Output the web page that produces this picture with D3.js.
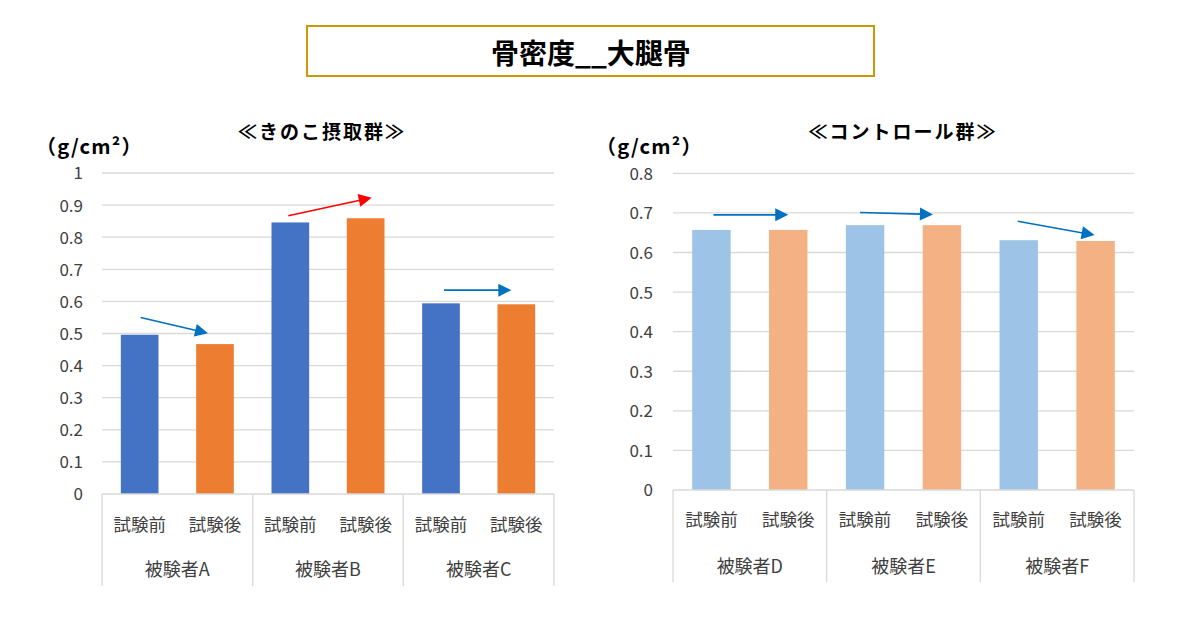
<!DOCTYPE html>
<html>
<head>
<meta charset="utf-8">
<script src="https://cdn.jsdelivr.net/npm/d3@7"></script>
<style>
  html, body { margin: 0; padding: 0; background: #fff; }
  svg { display: block; font-family: "Noto Sans CJK JP", "Noto Sans", sans-serif; }
</style>
</head>
<body>
<svg id="chart" width="1182" height="633"></svg>
<script>
// ---- data ----
const mainTitle = "骨密度__大腿骨";
const unitLabel = "（g/cm²）";
const phases = ["試験前", "試験後"];

const leftTitle = "≪きのこ摂取群≫";
const leftSubjects = ["被験者A", "被験者B", "被験者C"];
const leftBefore = [0.496, 0.846, 0.594];
const leftAfter  = [0.467, 0.859, 0.591];
const leftTicks  = [0, 0.1, 0.2, 0.3, 0.4, 0.5, 0.6, 0.7, 0.8, 0.9, 1];
const leftTickLabels = ["0", "0.1", "0.2", "0.3", "0.4", "0.5", "0.6", "0.7", "0.8", "0.9", "1"];
// arrow annotations: value at start (before) and tip (after)
const leftArrowFrom = [0.550, 0.867, 0.635];
const leftArrowTo   = [0.501, 0.923, 0.635];
const leftArrowColors = ["#0070C0", "#FF0000", "#0070C0"];

const rightTitle = "≪コントロール群≫";
const rightSubjects = ["被験者D", "被験者E", "被験者F"];
const rightBefore = [0.657, 0.669, 0.631];
const rightAfter  = [0.657, 0.669, 0.629];
const rightTicks  = [0, 0.1, 0.2, 0.3, 0.4, 0.5, 0.6, 0.7, 0.8];
const rightTickLabels = ["0", "0.1", "0.2", "0.3", "0.4", "0.5", "0.6", "0.7", "0.8"];
const rightArrowFrom = [0.695, 0.701, 0.679];
const rightArrowTo   = [0.695, 0.696, 0.644];
const rightArrowColors = ["#0070C0", "#0070C0", "#0070C0"];

// ---- drawing ----
const svg = d3.select("#chart");
svg.append("rect").attr("width", 1182).attr("height", 633).attr("fill", "#fff");

// main title box
svg.append("rect")
  .attr("x", 307).attr("y", 26).attr("width", 567).attr("height", 50)
  .attr("fill", "#fff").attr("stroke", "#C99A06").attr("stroke-width", 2);
svg.append("text")
  .attr("x", 591).attr("y", 52).attr("text-anchor", "middle")
  .attr("dominant-baseline", "central")
  .attr("font-size", 28).attr("font-weight", "bold").attr("fill", "#000")
  .text(mainTitle);

function drawChart(cfg) {
  const g = svg.append("g");
  const y = d3.scaleLinear().domain([0, cfg.yMax]).range([cfg.bottom, cfg.top]);
  const x0 = d3.scaleBand().domain(cfg.subjects).range([cfg.left, cfg.right]).padding(0);
  const x1 = d3.scaleBand().domain(phases).range([0, x0.bandwidth()])
    .paddingInner(0.5).paddingOuter(0.25);

  // gridlines
  g.append("g").selectAll("line").data(cfg.ticks.filter(t => t > 0)).join("line")
    .attr("x1", cfg.left).attr("x2", cfg.right)
    .attr("y1", d => y(d)).attr("y2", d => y(d))
    .attr("stroke", "#D9D9D9").attr("stroke-width", 1.3);

  // y axis labels
  const yAxis = d3.axisLeft(y).tickValues(cfg.ticks)
    .tickFormat((d, i) => cfg.tickLabels[i]).tickSize(0).tickPadding(0);
  const ya = g.append("g").attr("transform", `translate(${cfg.labelX},0)`).call(yAxis);
  ya.select(".domain").remove();
  ya.selectAll("text").attr("font-size", 17).attr("fill", "#404040")
    .attr("font-family", "'Noto Sans CJK JP', sans-serif").attr("dy", "0.35em");

  // unit label
  g.append("text").attr("x", cfg.unitX).attr("y", 145).attr("dominant-baseline", "central")
    .attr("font-size", 20).attr("font-weight", "bold").attr("fill", "#000")
    .attr("letter-spacing", 1.2).text(unitLabel);

  // chart title
  g.append("text").attr("x", cfg.titleX).attr("y", 130).attr("text-anchor", "middle")
    .attr("dominant-baseline", "central").attr("font-size", 19).attr("font-weight", "bold")
    .attr("letter-spacing", 2).attr("fill", "#000").text(cfg.title);

  // bars
  const rows = [];
  cfg.subjects.forEach((s, i) => {
    rows.push({ s, p: phases[0], v: cfg.before[i] });
    rows.push({ s, p: phases[1], v: cfg.after[i] });
  });
  g.append("g").selectAll("rect").data(rows).join("rect")
    .attr("x", d => x0(d.s) + x1(d.p))
    .attr("width", x1.bandwidth())
    .attr("y", d => y(d.v))
    .attr("height", d => y(0) - y(d.v))
    .attr("fill", d => d.p === phases[0] ? cfg.colors[0] : cfg.colors[1]);

  // category axis line + separators
  g.append("line").attr("x1", cfg.left).attr("x2", cfg.right)
    .attr("y1", y(0)).attr("y2", y(0)).attr("stroke", "#D9D9D9").attr("stroke-width", 1.3);
  const seps = cfg.subjects.map(s => x0(s)).concat([cfg.right]);
  g.append("g").selectAll("line").data(seps).join("line")
    .attr("x1", d => d).attr("x2", d => d)
    .attr("y1", y(0)).attr("y2", cfg.sepBottom)
    .attr("stroke", "#D9D9D9").attr("stroke-width", 1.3);

  // phase labels
  g.append("g").selectAll("text").data(rows).join("text")
    .attr("x", d => x0(d.s) + x1(d.p) + x1.bandwidth() / 2)
    .attr("y", cfg.phaseY).attr("text-anchor", "middle").attr("dominant-baseline", "central")
    .attr("font-size", 17.5).attr("fill", "#404040").text(d => d.p);
  // subject labels
  g.append("g").selectAll("text").data(cfg.subjects).join("text")
    .attr("x", d => x0(d) + x0.bandwidth() / 2)
    .attr("y", cfg.subjectY).attr("text-anchor", "middle").attr("dominant-baseline", "central")
    .attr("font-size", 18).attr("fill", "#404040").text(d => d);

  // arrows
  const ag = g.append("g");
  cfg.subjects.forEach((s, i) => {
    const xs = x0(s) + x1(phases[0]) + x1.bandwidth() / 2 + cfg.arrowDx[i][0];
    const xe = x0(s) + x1(phases[1]) + x1.bandwidth() / 2 + cfg.arrowDx[i][1];
    const ys = y(cfg.arrowFrom[i]), ye = y(cfg.arrowTo[i]);
    const ang = Math.atan2(ye - ys, xe - xs);
    const hl = 13, hw = 6.5;
    const bx = xe - hl * Math.cos(ang), by = ye - hl * Math.sin(ang);
    const col = cfg.arrowColors[i];
    ag.append("line").attr("x1", xs).attr("y1", ys).attr("x2", bx + 1 * Math.cos(ang)).attr("y2", by + 1 * Math.sin(ang))
      .attr("stroke", col).attr("stroke-width", 1.6);
    const px = -Math.sin(ang), py = Math.cos(ang);
    ag.append("polygon")
      .attr("points", [[xe, ye], [bx + px * hw, by + py * hw], [bx - px * hw, by - py * hw]]
        .map(p => p.join(",")).join(" "))
      .attr("fill", col);
  });
}

drawChart({
  title: leftTitle, subjects: leftSubjects, before: leftBefore, after: leftAfter,
  ticks: leftTicks, tickLabels: leftTickLabels, yMax: 1,
  left: 102, right: 554, top: 173, bottom: 494, labelX: 83, unitX: 36, titleX: 322,
  phaseY: 523, subjectY: 568, sepBottom: 586,
  colors: ["#4472C4", "#ED7D31"],
  arrowFrom: leftArrowFrom, arrowTo: leftArrowTo, arrowColors: leftArrowColors,
  arrowDx: [[1, -7], [-2, 6], [3, -5]]
});

drawChart({
  title: rightTitle, subjects: rightSubjects, before: rightBefore, after: rightAfter,
  ticks: rightTicks, tickLabels: rightTickLabels, yMax: 0.8,
  left: 673, right: 1134, top: 173.3, bottom: 490, labelX: 653, unitX: 596, titleX: 903,
  phaseY: 518, subjectY: 565, sepBottom: 582,
  colors: ["#9DC3E6", "#F4B183"],
  arrowFrom: rightArrowFrom, arrowTo: rightArrowTo, arrowColors: rightArrowColors,
  arrowDx: [[2, 0], [-5, -9], [-1, -1]]
});
</script>
</body>
</html>
